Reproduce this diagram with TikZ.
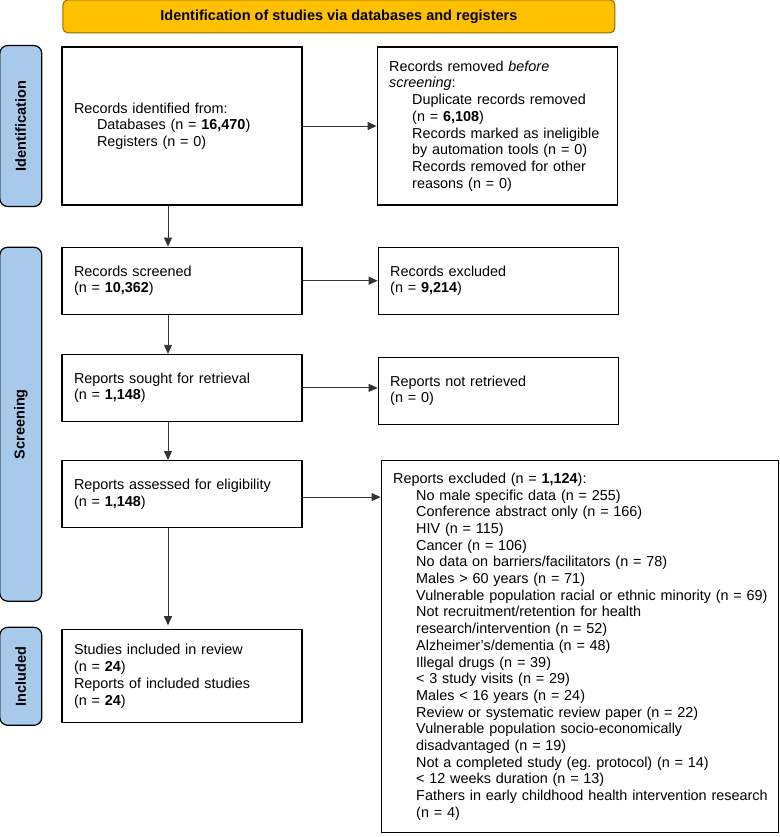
\documentclass[tikz,border=0pt]{standalone}
\usepackage{fontspec}
\setmainfont{Liberation Sans}
\usetikzlibrary{positioning,arrows.meta}
\definecolor{bannerfill}{HTML}{FFC000}
\definecolor{bannerline}{HTML}{8C6D00}
\definecolor{phasefill}{HTML}{A7C9EA}
\newcommand{\ind}[1]{\hspace*{23pt}\mbox{#1}}
\frenchspacing
\begin{document}
\begin{tikzpicture}[
  x=1pt, y=1pt,
  font=\fontsize{14.4}{16.7}\selectfont,
  box/.style={draw, line width=1.2pt, align=left, inner xsep=12pt, inner ysep=0pt, text width=216pt, minimum height=67pt},
  widebox/.style={box, text width=373pt, minimum height=372pt},
  phase/.style={draw, line width=1.2pt, rounded corners=8pt, fill=phasefill, rotate=90, minimum height=42pt, font=\fontsize{14.5}{16.7}\selectfont\bfseries},
  banner/.style={draw=bannerline, line width=1pt, fill=bannerfill, rounded corners=5pt, minimum width=552pt, minimum height=33pt, font=\fontsize{14.5}{16.7}\selectfont\bfseries},
  arrow/.style={-{Triangle[length=9pt,width=8pt]}, line width=0.9pt, draw=black!80}
]
\useasboundingbox (0,0) rectangle (779,-837);
\node[box, minimum height=158pt] (identified) at (182,-126) {Records identified from:\\\ind{Databases (n = \textbf{16,470})}\\\ind{Registers (n = 0)}};
\node[box, minimum height=158pt, right=74pt of identified] (removed) {Records removed \emph{before}\\\emph{screening}:\\\ind{Duplicate records removed}\\\ind{(n = \textbf{6,108})}\\\ind{Records marked as ineligible}\\\ind{by automation tools (n = 0)}\\\ind{Records removed for other}\\\ind{reasons (n = 0)}};
\node[banner, above=13pt of identified.north west, anchor=south west, xshift=1pt] (title) {Identification of studies via databases and registers};
\node[box, below=41pt of identified] (screened) {Records screened\\(n = \textbf{10,362})};
\node[box, right=75pt of screened] (excluded) {Records excluded\\(n = \textbf{9,214})};
\node[box, below=39pt of screened] (sought) {Reports sought for retrieval\\(n = \textbf{1,148})};
\node[box, right=75pt of sought, yshift=-3pt] (notretrieved) {Reports not retrieved\\(n = 0)};
\node[box, below=38pt of sought] (assessed) {Reports assessed for eligibility\\(n = \textbf{1,148})};
\node[widebox, right=78pt of assessed.north east, anchor=north west] (reasons) {Reports excluded (n = \textbf{1,124}):\\
\ind{No male specific data (n = 255)}\\
\ind{Conference abstract only (n = 166)}\\
\ind{HIV (n = 115)}\\
\ind{Cancer (n = 106)}\\
\ind{No data on barriers/facilitators (n = 78)}\\
\ind{Males > 60 years (n = 71)}\\
\ind{Vulnerable population racial or ethnic minority (n = 69)}\\
\ind{Not recruitment/retention for health}\\
\ind{research/intervention (n = 52)}\\
\ind{Alzheimer's/dementia (n = 48)}\\
\ind{Illegal drugs (n = 39)}\\
\ind{< 3 study visits (n = 29)}\\
\ind{Males < 16 years (n = 24)}\\
\ind{Review or systematic review paper (n = 22)}\\
\ind{Vulnerable population socio-economically}\\
\ind{disadvantaged (n = 19)}\\
\ind{Not a completed study (eg. protocol) (n = 14)}\\
\ind{< 12 weeks duration (n = 13)}\\
\ind{Fathers in early childhood health intervention research}\\
\ind{(n = 4)}};
\node[box, minimum height=93pt, below=101pt of assessed] (included) {Studies included in review\\(n = \textbf{24})\\Reports of included studies\\(n = \textbf{24})};
\node[phase, minimum width=161pt, left=19pt of identified, anchor=south] (idphase) {Identification};
\node[phase, minimum width=354pt, anchor=east] (scrphase) at (idphase.center |- screened.north) {Screening};
\node[phase, minimum width=98pt, left=19pt of included, anchor=south] (incphase) {Included};
\draw[arrow] (identified) -- (removed);
\draw[arrow] (screened) -- (excluded);
\draw[arrow] (sought.east) -- (sought.east -| notretrieved.west);
\draw[arrow] ([yshift=-3pt]assessed.east) -- ([yshift=-3pt]assessed.east -| reasons.west);
\draw[arrow] ([xshift=-14pt]identified.south) -- ([xshift=-14pt]screened.north);
\draw[arrow] ([xshift=-14pt]screened.south) -- ([xshift=-14pt]sought.north);
\draw[arrow] ([xshift=-14pt]sought.south) -- ([xshift=-14pt]assessed.north);
\draw[arrow] ([xshift=-14pt]assessed.south) -- ([xshift=-14pt,yshift=4pt]included.north);
\end{tikzpicture}
\end{document}
